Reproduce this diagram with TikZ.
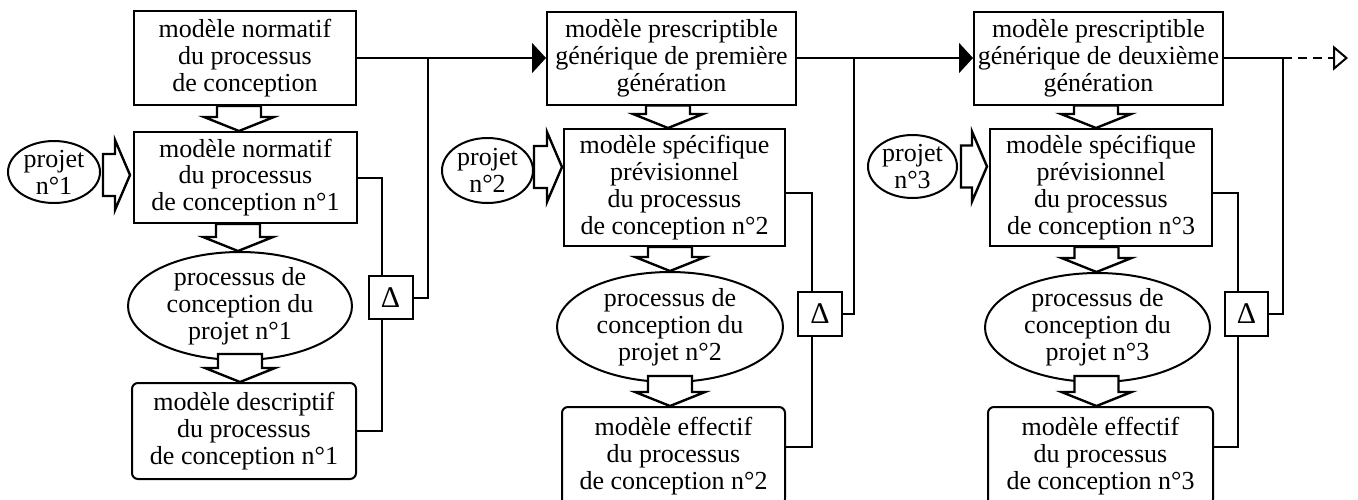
\documentclass[tikz,border=0pt]{standalone}
\usepackage{fontspec}
\setmainfont{Liberation Serif}
\usetikzlibrary{arrows.meta,shapes.geometric,calc}

% hollow block arrow pointing down: stem top at the y of #1, column and tip at #2
\newcommand{\hollowdown}[2]{%
  \path[blockarrow] let \p1=(#1), \p2=(#2) in
    (\x2-22pt,\y1) -- (\x2+22pt,\y1) -- (\x2+22pt,\y2+14pt) -- (\x2+35pt,\y2+14pt)
    -- (\x2,\y2) -- (\x2-35pt,\y2+14pt) -- (\x2-22pt,\y2+14pt) -- cycle;}
% hollow block arrow pointing right: stem start at the x of #1, row and tip at #2
\newcommand{\hollowright}[2]{%
  \path[blockarrow] let \p1=(#1), \p2=(#2) in
    (\x1,\y2+21pt) -- (\x2-15pt,\y2+21pt) -- (\x2-15pt,\y2+35pt) -- (\x2,\y2)
    -- (\x2-15pt,\y2-35pt) -- (\x2-15pt,\y2-21pt) -- (\x1,\y2-21pt) -- cycle;}

\tikzset{
  lbl/.style={font=\fontsize{26}{26.8}\selectfont, align=center},
  box/.style={lbl, draw, line width=2pt, inner sep=0pt},
  rbox/.style={box, rounded corners=6pt},
  oval/.style={lbl, draw, ellipse, line width=2pt, inner sep=-25pt},
  tag/.style={lbl, draw, ellipse, line width=2pt, inner sep=-10pt},
  delta/.style={draw, font=\fontsize{30}{30}\selectfont, line width=2pt,
    minimum width=44pt, minimum height=43pt, inner sep=0pt},
  wire/.style={line width=2pt},
  feed/.style={wire, -{Triangle[length=14pt,width=30pt]}},
  blockarrow/.style={draw, fill=white, line width=2.4pt, line join=miter},
}

\begin{document}
\begin{tikzpicture}[x=1pt, y=-1pt]
\path[fill=white, use as bounding box] (0,0) rectangle (1358,499);

% first project
\node[box, minimum width=222pt, minimum height=94pt] (A1) at (245,58)
  {modèle normatif\\du processus\\de conception};
\node[box, minimum width=223pt, minimum height=91pt] (B1) at (245.5,177.5)
  {modèle normatif\\du processus\\de conception n°1};
\node[oval, minimum width=224pt, minimum height=108pt] (C1) at (240,306)
  {processus de\\conception du\\projet n°1};
\node[rbox, minimum width=224pt, minimum height=96pt] (D1) at (244,431)
  {modèle descriptif\\du processus\\de conception n°1};
\node[tag, minimum width=92pt, minimum height=62pt] (P1) at (54,172) {projet\\n°1};
\node[delta] (d1) at (390.5,297.5) {Δ};

% second project
\node[box, minimum width=249pt, minimum height=93pt] (A2) at (671.5,58)
  {modèle prescriptible\\générique de première\\génération};
\node[box, minimum width=221pt, minimum height=117pt] (B2) at (674.5,187.5)
  {modèle spécifique\\prévisionnel\\du processus\\de conception n°2};
\node[oval, minimum width=226pt, minimum height=110pt] (C2) at (670,327)
  {processus de\\conception du\\projet n°2};
\node[rbox, minimum width=223pt, minimum height=98pt] (E2) at (673.5,456)
  {modèle effectif\\du processus\\de conception n°2};
\node[tag, minimum width=91pt, minimum height=65pt] (P2) at (487.5,170.5) {projet\\n°2};
\node[delta, minimum height=44pt] (d2) at (820,314) {Δ};

% third project
\node[box, minimum width=249pt, minimum height=93pt] (A3) at (1098.5,58)
  {modèle prescriptible\\générique de deuxième\\génération};
\node[box, minimum width=222pt, minimum height=117pt] (B3) at (1101,187.5)
  {modèle spécifique\\prévisionnel\\du processus\\de conception n°3};
\node[oval, minimum width=225pt, minimum height=109pt] (C3) at (1097.5,327.5)
  {processus de\\conception du\\projet n°3};
\node[rbox, minimum width=225pt, minimum height=98pt] (E3) at (1100.5,456)
  {modèle effectif\\du processus\\de conception n°3};
\node[tag, minimum width=89pt, minimum height=63pt] (P3) at (912.5,166.5) {projet\\n°3};
\node[delta, minimum width=43pt, minimum height=44pt] (d3) at (1246.5,314) {Δ};

% feedback loops and generation links
\coordinate (j1) at (428,58);
\coordinate (j2) at (854,58);
\coordinate (j3) at (1283,58);
\coordinate (next) at (1348,58);

\draw[feed] (A1.east) -- (A1.east -| A2.west);
\draw[wire] (j1) |- (d1.east);
\draw[wire] (B1.east) -| ([xshift=-8.5pt]d1.north);
\draw[wire] ([xshift=-8.5pt]d1.south) |- (D1.east);

\draw[feed] (A2.east) -- (A2.east -| A3.west);
\draw[wire] (j2) |- (d2.east);
\draw[wire] ([yshift=-5.5pt]B2.east) -| ([xshift=-8pt]d2.north);
\draw[wire] ([xshift=-8pt]d2.south) |- ([yshift=9pt]E2.east);

\draw[wire] (A3.east) -- (j3);
\draw[wire, dash pattern=on 9pt off 6pt, -{Triangle[open,length=15pt,width=25pt]}] (j3) -- (next);
\draw[wire] (j3) |- (d3.east);
\draw[wire] ([yshift=-5.5pt]B3.east) -| ([xshift=-8.5pt]d3.north);
\draw[wire] ([xshift=-8.5pt]d3.south) |- ([yshift=9pt]E3.east);

% block arrows
\hollowdown{A1.south}{[xshift=-6.5pt]B1.north}
\hollowdown{B1.south}{[xshift=-2pt]C1.north}
\hollowdown{[yshift=7pt]C1.south}{[xshift=-4pt]D1.north}
\hollowright{[xshift=2pt]P1.east}{$(P1.east -| B1.west)+(-3pt,-3pt)$}

\hollowdown{A2.south}{[xshift=-6.5pt]B2.north}
\hollowdown{B2.south}{C2.north}
\hollowdown{[yshift=7pt]C2.south}{[xshift=-3.5pt]E2.north}
\hollowright{P2.east}{$(P2.east -| B2.west)+(-1pt,3.5pt)$}

\hollowdown{A3.south}{[xshift=-5pt]B3.north}
\hollowdown{B3.south}{[xshift=-1pt]C3.north}
\hollowdown{[yshift=7pt]C3.south}{[xshift=-4pt]E3.north}
\hollowright{[xshift=3pt]P3.east}{$(P3.east -| B3.west)+(-2pt,0pt)$}
\end{tikzpicture}
\end{document}
